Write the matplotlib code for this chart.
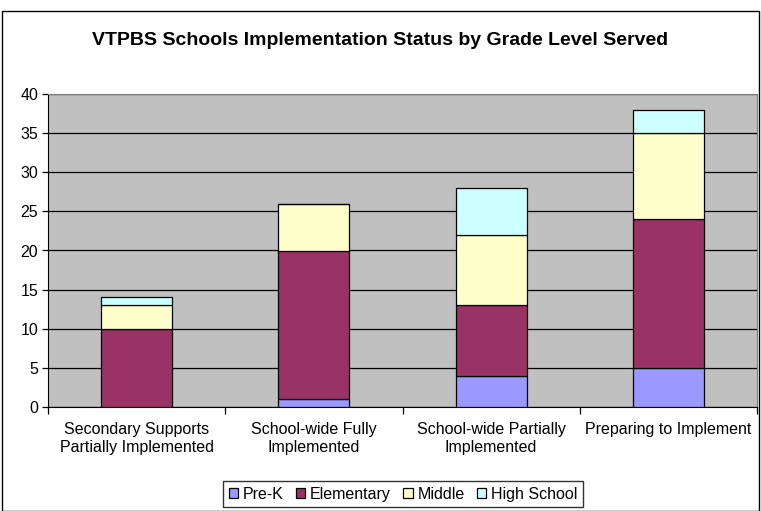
import numpy as np
import matplotlib.pyplot as plt
from matplotlib.patches import Rectangle

plt.rcParams['font.family'] = ['Liberation Sans', 'DejaVu Sans']

categories = ['Secondary Supports\nPartially Implemented', 'School-wide Fully\nImplemented',
              'School-wide Partially\nImplemented', 'Preparing to Implement']
series = ['Pre-K', 'Elementary', 'Middle', 'High School']
pre_k = [0, 1, 4, 5]
elementary = [10, 19, 9, 19]
middle = [3, 6, 9, 11]
high_school = [1, 0, 6, 3]
colors = ['#9999FF', '#993366', '#FFFFCC', '#CCFFFF']

W, H = 761, 511
fig = plt.figure(figsize=(W / 100, H / 100), dpi=100)
fig.patch.set_facecolor('white')

# outer chart border
fig.add_artist(Rectangle((2 / W, 0.5 / H), 757 / W, 500 / H, transform=fig.transFigure,
                         fill=False, edgecolor='black', linewidth=1))

ax = fig.add_axes([48 / W, (H - 407) / H, 709 / W, 313 / H])
ax.set_facecolor('#C0C0C0')

x = np.arange(len(categories))
bottom = np.zeros(len(categories))
for name, vals, c in zip(series, [pre_k, elementary, middle, high_school], colors):
    ax.bar(x, vals, width=0.4, bottom=bottom, color=c, edgecolor='black',
           linewidth=0.9, label=name, zorder=3)
    bottom += np.array(vals)

ax.set_xlim(-0.5, len(categories) - 0.5)
ax.set_ylim(0, 40)
ax.set_yticks(range(0, 41, 5))
ax.yaxis.grid(True, color='black', linewidth=0.9)
ax.set_axisbelow(True)

ax.set_xticks(x)
ax.set_xticklabels(categories, fontsize=11.5)
ax.tick_params(axis='x', length=0, pad=11)
ax.set_xticks(np.arange(-0.5, len(categories)), minor=True)
ax.tick_params(axis='x', which='minor', length=5, width=0.9)
ax.tick_params(axis='y', labelsize=11.5, length=4, width=0.9, pad=3)

for s in ['top', 'right']:
    ax.spines[s].set_color('#808080')
ax.spines['left'].set_color('black')
ax.spines['bottom'].set_color('black')

fig.text(0.5, 1 - 45 / H, 'VTPBS Schools Implementation Status by Grade Level Served',
         ha='center', va='baseline', fontsize=14, fontweight='bold')

fig.legend(loc='center', bbox_to_anchor=(403 / W, 1 - 494 / H), ncol=4, fontsize=11.5,
           frameon=True, fancybox=False, edgecolor='black', handlelength=0.6,
           handleheight=0.6, handletextpad=0.3, columnspacing=0.75, borderpad=0.35)

fig.savefig('out.png', dpi=100)
